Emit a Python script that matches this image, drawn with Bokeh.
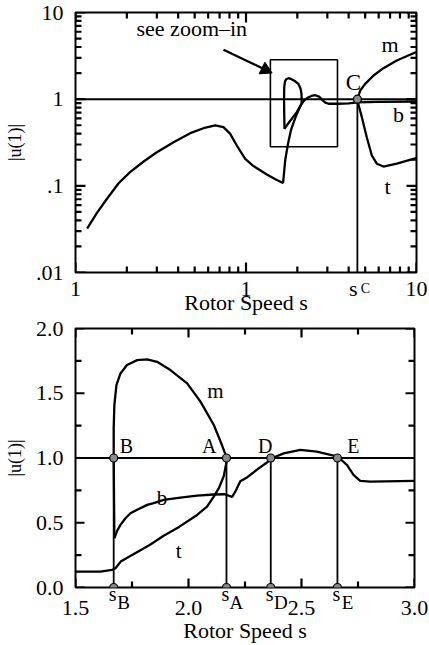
import math
from bokeh.plotting import figure
from bokeh.layouts import column
from bokeh.models import FixedTicker, LogAxis, LinearAxis
from bokeh.core.properties import value
from bokeh.embed import file_html
from bokeh.resources import INLINE

FONT = "Liberation Serif"

# ---------------- top panel (log-log) ----------------
top_xticks = [0.1, 1, 10]
top_xtick_labels = ["1", "1", "10"]
top_yticks = [0.01, 0.1, 1, 10]
top_ytick_labels = [".01", ".1", "1", "10"]

top_t_s = [0.117, 0.133, 0.153, 0.179, 0.209, 0.251, 0.300, 0.376, 0.471, 0.563, 0.66, 0.738,
           0.808, 0.883, 0.989, 1.106, 1.324, 1.516, 1.65, 1.70, 1.76, 1.83, 1.91, 1.99, 2.06, 2.12]
top_t_u = [0.032, 0.048, 0.071, 0.107, 0.144, 0.191, 0.244, 0.319, 0.405, 0.462, 0.497, 0.475,
           0.398, 0.292, 0.205, 0.169, 0.135, 0.117, 0.108, 0.20, 0.30, 0.43, 0.55, 0.68, 0.79, 0.885]

top_m_s = [1.682, 1.675, 1.672, 1.675, 1.69, 1.72, 1.776, 1.85, 1.93, 2.03, 2.09, 2.115, 2.12, 2.12]
top_m_u = [0.455, 0.70, 1.0, 1.35, 1.58, 1.70, 1.746, 1.70, 1.62, 1.5, 1.32, 1.15, 1.0, 0.9]

top_b_s = [1.682, 1.735, 1.856, 1.986, 2.08, 2.12, 2.2, 2.3, 2.42, 2.55, 2.68, 2.8, 2.92, 3.05,
           3.49, 4.0, 4.5, 6.0, 10.0]
top_b_u = [0.455, 0.50, 0.594, 0.708, 0.83, 0.885, 0.97, 1.04, 1.09, 1.11, 1.07, 0.98, 0.91, 0.885,
           0.885, 0.895, 0.92, 0.93, 0.94]

top_m2_s = [4.5, 4.68, 5.0, 5.6, 6.4, 7.66, 9.6, 10.0]
top_m2_u = [1.0, 1.26, 1.5, 1.875, 2.28, 2.79, 3.39, 3.48]

top_t2_s = [4.5, 4.53, 4.78, 5.11, 5.47, 5.85, 6.4, 7.66, 9.6, 10.0]
top_t2_u = [1.0, 0.923, 0.62, 0.364, 0.224, 0.18, 0.167, 0.18, 0.205, 0.21]

s_C = 4.5
u_C = 1.0
zoom_box = dict(left=1.39, right=3.44, bottom=0.283, top=2.85)
arrow_start = (0.738, 3.71)
arrow_end = (1.39, 2.05)

# ---------------- bottom panel (linear) ----------------
bot_xticks = [1.5, 2.0, 2.5, 3.0]
bot_xtick_labels = ["1.5", "2.0", "2.5", "3.0"]
bot_xminor = [1.75, 2.25, 2.75]
bot_yticks = [0.0, 0.5, 1.0, 1.5, 2.0]
bot_ytick_labels = ["0.0", "0.5", "1.0", "1.5", "2.0"]
bot_yminor = [0.25, 0.75, 1.25, 1.75]

bot_t_s = [1.5, 1.61, 1.662, 1.677, 1.70, 1.76, 1.83, 1.89, 1.96, 2.038, 2.082, 2.111, 2.135,
           2.156, 2.166, 2.17]
bot_t_u = [0.123, 0.123, 0.136, 0.149, 0.20, 0.26, 0.33, 0.40, 0.47, 0.56, 0.625, 0.70, 0.77,
           0.86, 0.95, 1.0]

bot_m_s = [2.17, 2.163, 2.148, 2.112, 2.053, 1.994, 1.92, 1.861, 1.817, 1.773, 1.728, 1.699,
           1.681, 1.672, 1.669, 1.669, 1.672]
bot_m_u = [1.0, 1.03, 1.1, 1.255, 1.435, 1.576, 1.679, 1.743, 1.761, 1.756, 1.718, 1.653,
           1.563, 1.409, 1.229, 0.998, 0.381]

bot_b_s = [1.672, 1.685, 1.699, 1.721, 1.743, 1.773, 1.817, 1.846, 1.89, 1.964, 2.038, 2.111,
           2.16, 2.193, 2.207, 2.229, 2.259, 2.303, 2.347, 2.369, 2.421, 2.495, 2.568, 2.642,
           2.664, 2.701, 2.73, 2.76, 2.804, 3.0]
bot_b_u = [0.381, 0.44, 0.484, 0.535, 0.573, 0.60, 0.638, 0.651, 0.676, 0.694, 0.71, 0.718,
           0.72, 0.70, 0.74, 0.82, 0.85, 0.91, 0.965, 0.998, 1.036, 1.062, 1.049, 1.018,
           1.005, 0.946, 0.869, 0.823, 0.818, 0.823]

bot_points_s = [1.669, 2.168, 2.364, 2.659]
bot_point_names = ["B", "A", "D", "E"]
bot_point_label_s = [1.725, 2.092, 2.34, 2.729]

# ---------------- geometry / style ----------------
TOP_FW, TOP_FH = 341, 260
BOT_FW, BOT_FH = 339, 259
LW = 2.3

top_xr = (0.1, 10)
top_yr = (0.01, 10)
bot_xr = (1.5, 3.0)
bot_yr = (0.0, 2.0)


def make_shift(rng, npx, log):
    """Return a function moving a data value by a number of screen pixels along an axis."""
    if log:
        per_px = (math.log10(rng[1]) - math.log10(rng[0])) / npx
        return lambda v, px: v * 10 ** (px * per_px)
    per_px = (rng[1] - rng[0]) / npx
    return lambda v, px: v + px * per_px


top_dx = make_shift(top_xr, TOP_FW, True)
top_dy = make_shift(top_yr, TOP_FH, True)
bot_dx = make_shift(bot_xr, BOT_FW, False)
bot_dy = make_shift(bot_yr, BOT_FH, False)


def text_axis(ax, ticks, labels, size, standoff):
    ax.ticker = FixedTicker(ticks=ticks, minor_ticks=[])
    ax.major_tick_in = 0
    ax.major_tick_out = 0
    ax.minor_tick_in = 0
    ax.minor_tick_out = 0
    ax.axis_line_color = None
    ax.major_label_text_font = FONT
    ax.major_label_text_font_size = size
    ax.major_label_text_color = "black"
    ax.major_label_standoff = standoff
    ax.major_label_overrides = {t: l for t, l in zip(ticks, labels)}
    ax.axis_label_text_font = FONT
    ax.axis_label_text_font_style = "normal"
    ax.axis_label_text_color = "black"


def tick_marks(p, xr, yr, dx, dy, x_major, x_minor, y_major, y_minor, major=8, minor=4):
    """Inward tick marks on all four sides of the frame."""
    x0, x1, y0, y1 = [], [], [], []
    for vals, L in ((x_major, major), (x_minor, minor)):
        for v in vals:
            x0 += [v, v]
            x1 += [v, v]
            y0 += [yr[0], yr[1]]
            y1 += [dy(yr[0], L), dy(yr[1], -L)]
    for vals, L in ((y_major, major), (y_minor, minor)):
        for v in vals:
            y0 += [v, v]
            y1 += [v, v]
            x0 += [xr[0], xr[1]]
            x1 += [dx(xr[0], L), dx(xr[1], -L)]
    p.segment(x0=x0, y0=y0, x1=x1, y1=y1, line_color="black", line_width=2.2)


def label(p, x, y, text, size="22px", align="center", baseline="middle"):
    p.text(x=[x], y=[y], text=[text], text_font=value(FONT), text_font_size=value(size),
           text_align=align, text_baseline=baseline, text_color="black")


def base_fig(p):
    p.xgrid.visible = False
    p.ygrid.visible = False
    p.outline_line_color = "black"
    p.outline_line_width = 2
    p.background_fill_color = "white"
    p.border_fill_color = "white"


# ---------------- top figure ----------------
p1 = figure(x_axis_type="log", y_axis_type="log", x_range=top_xr, y_range=top_yr,
            frame_width=TOP_FW, frame_height=TOP_FH, min_border_left=72, min_border_right=16,
            min_border_top=12, min_border_bottom=44, output_backend="svg",
            toolbar_location=None)
base_fig(p1)

dec_minor_x = [k * 10.0 ** e for e in (-1, 0) for k in range(2, 10)]
dec_minor_y = [k * 10.0 ** e for e in (-2, -1, 0) for k in range(2, 10)]

# x axis 1: numbers plus the "s" of s_C
text_axis(p1.xaxis[0], top_xticks + [top_dx(s_C, -4)], top_xtick_labels + ["s"], "22px", 3)
# x axis 2: subscript "C" and the axis title
ax_c = LogAxis()
text_axis(ax_c, [top_dx(s_C, 8)], ["C"], "14px", -23)
ax_c.axis_label = "Rotor Speed s"
ax_c.axis_label_text_font_size = "22px"
ax_c.axis_label_standoff = -9
p1.add_layout(ax_c, "below")

text_axis(p1.yaxis[0], top_yticks, top_ytick_labels, "22px", 12)
p1.yaxis[0].axis_label = "|u(1)|"
p1.yaxis[0].axis_label_text_font_size = "18px"
p1.yaxis[0].axis_label_standoff = 8

tick_marks(p1, top_xr, top_yr, top_dx, top_dy, top_xticks, dec_minor_x, top_yticks, dec_minor_y,
           major=10, minor=6)

# horizontal |u(1)| = 1 line and the vertical line at s_C
p1.segment(x0=[top_xr[0]], y0=[1.0], x1=[top_xr[1]], y1=[1.0], line_color="black", line_width=2)
p1.segment(x0=[s_C], y0=[top_yr[0]], x1=[s_C], y1=[u_C], line_color="black", line_width=1.8)

p1.quad(left=[zoom_box["left"]], right=[zoom_box["right"]], bottom=[zoom_box["bottom"]],
        top=[zoom_box["top"]], fill_color=None, line_color="black", line_width=1.6)

for xs, ys in [(top_t_s, top_t_u), (top_m_s, top_m_u), (top_b_s, top_b_u),
               (top_m2_s, top_m2_u), (top_t2_s, top_t2_u)]:
    p1.line(xs, ys, line_color="black", line_width=LW)

p1.scatter([s_C], [u_C], size=8, marker="circle", fill_color="#8a8a8a", line_color="black",
           line_width=1.2)

# arrow "see zoom-in": shaft + triangular head
p1.segment(x0=[arrow_start[0]], y0=[arrow_start[1]], x1=[top_dx(arrow_end[0], -6)],
           y1=[top_dy(arrow_end[1], 3)], line_color="black", line_width=2.2)
p1.scatter([top_dx(arrow_end[0], -5)], [top_dy(arrow_end[1], 2.5)], marker="triangle", size=13,
           angle=-2.03, fill_color="black", line_color="black")

label(p1, 0.228, 6.6, "see zoom\u2013in", size="22px", align="left")
label(p1, 7.0, 4.25, "m")
label(p1, 4.27, 1.55, "C", size="23px")
label(p1, 7.84, 0.662, "b")
label(p1, 6.76, 0.0988, "t")

# ---------------- bottom figure ----------------
p2 = figure(x_range=bot_xr, y_range=bot_yr,
            frame_width=BOT_FW, frame_height=BOT_FH, min_border_left=75, min_border_right=15,
            min_border_top=11, min_border_bottom=58, output_backend="svg",
            toolbar_location=None)
base_fig(p2)

# x axis 1: the "s" letters
text_axis(p2.xaxis[0], [bot_dx(v, -1) for v in bot_points_s], ["s"] * 4, "20px", -5)
# x axis 2: numbers
ax_num = LinearAxis()
text_axis(ax_num, bot_xticks, bot_xtick_labels, "22px", -7)
p2.add_layout(ax_num, "below")
# x axis 3: subscripts + axis title
ax_sub = LinearAxis()
text_axis(ax_sub, [bot_dx(v, 10) for v in bot_points_s], bot_point_names, "19px", -26)
ax_sub.axis_label = "Rotor Speed s"
ax_sub.axis_label_text_font_size = "22px"
ax_sub.axis_label_standoff = 2
p2.add_layout(ax_sub, "below")

text_axis(p2.yaxis[0], bot_yticks, bot_ytick_labels, "22px", 12)
p2.yaxis[0].major_label_text_baseline = "top"
p2.yaxis[0].axis_label = "|u(1)|"
p2.yaxis[0].axis_label_text_font_size = "18px"
p2.yaxis[0].axis_label_standoff = 8

tick_marks(p2, bot_xr, bot_yr, bot_dx, bot_dy, bot_xticks, bot_xminor, bot_yticks, bot_yminor,
           major=9, minor=6)

p2.segment(x0=[bot_xr[0]], y0=[1.0], x1=[bot_xr[1]], y1=[1.0], line_color="black", line_width=2)
p2.segment(x0=bot_points_s, y0=[bot_yr[0]] * 4, x1=bot_points_s, y1=[1.0] * 4,
           line_color="black", line_width=1.8)

for xs, ys in [(bot_t_s, bot_t_u), (bot_m_s, bot_m_u), (bot_b_s, bot_b_u)]:
    p2.line(xs, ys, line_color="black", line_width=LW)

p2.scatter(bot_points_s + bot_points_s, [bot_yr[0]] * 4 + [1.0] * 4, size=8, marker="circle",
           fill_color="#8a8a8a", line_color="black", line_width=1.2)

label(p2, 2.119, 1.52, "m", size="21px")
label(p2, 1.883, 0.694, "b", size="21px")
label(p2, 1.957, 0.28, "t", size="21px")
for x, name in zip(bot_point_label_s, bot_point_names):
    label(p2, x, 1.095, name, size="20px")

layout = column(p1, p2, spacing=0)
open("out.html", "w").write(file_html(layout, INLINE))
